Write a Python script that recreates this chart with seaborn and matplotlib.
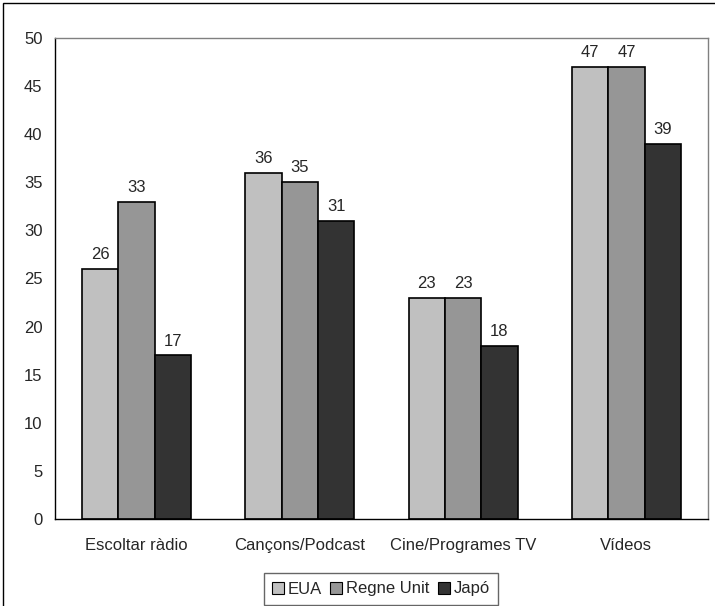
import pandas as pd
import numpy as np
import seaborn as sns
import matplotlib.pyplot as plt
from matplotlib.patches import Rectangle, Patch

sns.set_style('white')
plt.rcParams['font.family'] = ['Liberation Sans', 'DejaVu Sans']

# data
categories = ['Escoltar ràdio', 'Cançons/Podcast', 'Cine/Programes TV', 'Vídeos']
series = ['EUA', 'Regne Unit', 'Japó']
eua = [26, 36, 23, 47]
regne_unit = [33, 35, 23, 47]
japo = [17, 31, 18, 39]
colors = ['#C0C0C0', '#969696', '#333333']

data = pd.DataFrame({
    'categoria': categories * 3,
    'pais': [s for s in series for _ in categories],
    'valor': eua + regne_unit + japo,
})

fig = plt.figure(figsize=(7.15, 6.06), dpi=100)
ax = fig.add_axes([55 / 715, 1 - 519 / 606, 653 / 715, 481 / 606])

sns.barplot(data=data, x='categoria', y='valor', hue='pais', order=categories,
            hue_order=series, palette=colors, width=2 / 3, edgecolor='black',
            linewidth=1.2, saturation=1, ax=ax, legend=False)

for cont in ax.containers:
    ax.bar_label(cont, padding=5, fontsize=12)

ax.set_ylim(0, 50)
ax.set_xlim(-0.5, len(categories) - 0.5)
ax.set_yticks(np.arange(0, 51, 5))
ax.set_xlabel('')
ax.set_ylabel('')

# ticks at the category boundaries, labels centred
ax.set_xticks(np.arange(len(categories) + 1) - 0.5)
ax.set_xticklabels([])
ax.set_xticks(np.arange(len(categories)), minor=True)
ax.set_xticklabels(categories, minor=True)
ax.tick_params(axis='x', which='major', direction='out', length=5, width=1, color='black')
ax.tick_params(axis='x', which='minor', length=0, pad=14, labelsize=12)
ax.tick_params(axis='y', direction='out', length=5, width=1, color='black', labelsize=12, pad=4)

for side in ['left', 'bottom']:
    ax.spines[side].set_color('black')
    ax.spines[side].set_linewidth(1)
for side in ['top', 'right']:
    ax.spines[side].set_color('#808080')
    ax.spines[side].set_linewidth(1)

# legend below the plot
handles = [Patch(facecolor=c, edgecolor='black', linewidth=0.8, label=s) for c, s in zip(colors, series)]
leg = fig.legend(handles=handles, loc='center', bbox_to_anchor=(381 / 715, 1 - 589 / 606),
                 ncol=3, frameon=True, fontsize=12, handlelength=0.7, handleheight=0.7,
                 handletextpad=0.25, columnspacing=0.5, borderpad=0.5, fancybox=False)
leg.get_frame().set_edgecolor('#404040')
leg.get_frame().set_linewidth(1)

# outer chart border
fig.patches.append(Rectangle((3 / 715, -0.01), 1.0, 1 - 3 / 606 + 0.01, transform=fig.transFigure,
                             fill=False, edgecolor='black', linewidth=1))

fig.savefig('out.png', dpi=100)
